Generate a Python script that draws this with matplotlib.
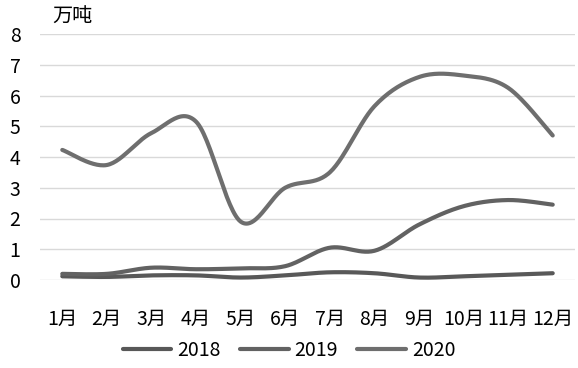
import numpy as np
import matplotlib
matplotlib.use("Agg")
import matplotlib.pyplot as plt

plt.rcParams['font.family'] = ['Noto Sans CJK SC', 'DejaVu Sans']

months = ['1月', '2月', '3月', '4月', '5月', '6月', '7月', '8月', '9月', '10月', '11月', '12月']
v2018 = [0.12, 0.10, 0.15, 0.15, 0.08, 0.15, 0.25, 0.22, 0.08, 0.12, 0.17, 0.22]
v2019 = [0.20, 0.20, 0.40, 0.35, 0.38, 0.45, 1.05, 0.95, 1.80, 2.40, 2.60, 2.45]
v2020 = [4.23, 3.74, 4.78, 5.15, 1.90, 3.00, 3.50, 5.65, 6.60, 6.65, 6.25, 4.70]
years = ['2018', '2019', '2020']
colors = ['#585858', '#626262', '#6e6e6e']


def smooth(x, y, n=30):
    # catmull-rom style smoothing, like excel's smoothed line
    x = np.asarray(x, float)
    y = np.asarray(y, float)
    px = np.concatenate([[x[0]], x, [x[-1]]])
    py = np.concatenate([[y[0]], y, [y[-1]]])
    xs, ys = [], []
    t = np.linspace(0, 1, n)
    for i in range(1, len(px) - 2):
        p0, p1, p2, p3 = py[i - 1], py[i], py[i + 1], py[i + 2]
        q0, q1, q2, q3 = px[i - 1], px[i], px[i + 1], px[i + 2]
        b1 = p1 + (p2 - p0) / 6
        b2 = p2 - (p3 - p1) / 6
        c1 = q1 + (q2 - q0) / 6
        c2 = q2 - (q3 - q1) / 6
        ys.append((1 - t) ** 3 * p1 + 3 * (1 - t) ** 2 * t * b1 + 3 * (1 - t) * t ** 2 * b2 + t ** 3 * p2)
        xs.append((1 - t) ** 3 * q1 + 3 * (1 - t) ** 2 * t * c1 + 3 * (1 - t) * t ** 2 * c2 + t ** 3 * q2)
    return np.concatenate(xs), np.concatenate(ys)


fig = plt.figure(figsize=(5.78, 3.68), dpi=100)
ax = fig.add_axes([40 / 578, 1 - 280 / 368, 535 / 578, 246 / 368])

x = np.arange(1, 13)
for vals, yr, c in zip([v2018, v2019, v2020], years, colors):
    sx, sy = smooth(x, vals)
    ax.plot(sx, sy, color=c, lw=3, label=yr, solid_capstyle='round')

ax.set_xlim(0.5, 12.5)
ax.set_ylim(0, 8)
ax.set_yticks(range(0, 9))
ax.set_xticks(x)
ax.set_xticklabels(months)
ax.grid(axis='y', color='#d9d9d9', lw=1)
ax.set_axisbelow(True)
for s in ax.spines.values():
    s.set_visible(False)
ax.tick_params(axis='both', length=0, labelsize=14, colors='black')
ax.tick_params(axis='x', pad=21)
ax.tick_params(axis='y', pad=14)

fig.text(52 / 578, 1 - 17 / 368, '万吨', fontsize=14.5, va='center', ha='left')

fig.legend(loc='center', bbox_to_anchor=(0.5, 1 - 350 / 368), ncol=3, frameon=False,
           fontsize=14, handlelength=2.5, columnspacing=1.0, handletextpad=0.3)

fig.savefig('out.png', dpi=100)
